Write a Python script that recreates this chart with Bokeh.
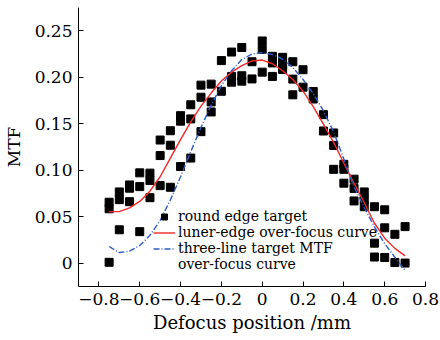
from bokeh.plotting import figure
from bokeh.models import ColumnDataSource, Legend, LegendItem, FixedTicker
from bokeh.embed import file_html
from bokeh.resources import INLINE

# ---- data ----
pt_x = [-0.75, -0.75, -0.75, -0.70, -0.70, -0.70, -0.65, -0.65, -0.65,
        -0.60, -0.60, -0.60, -0.55, -0.55, -0.55, -0.50, -0.50, -0.50,
        -0.45, -0.45, -0.45, -0.40, -0.40, -0.40, -0.35, -0.35, -0.35,
        -0.30, -0.30, -0.30, -0.25, -0.25, -0.25, -0.20, -0.20,
        -0.15, -0.15, -0.15, -0.10, -0.10, -0.10, -0.05, -0.05,
        0.00, 0.00, 0.00, 0.05, 0.05, 0.05, 0.10, 0.10, 0.10,
        0.15, 0.15, 0.15, 0.20, 0.20, 0.25, 0.25, 0.30, 0.30,
        0.35, 0.35, 0.35, 0.40, 0.40, 0.40, 0.45, 0.45, 0.45,
        0.50, 0.50, 0.50, 0.55, 0.55, 0.55, 0.60, 0.60, 0.60,
        0.65, 0.65, 0.70, 0.70]
pt_y = [0.0656, 0.0586, 0.0010, 0.0767, 0.0684, 0.0360, 0.0842, 0.0807, 0.0662,
        0.0972, 0.0824, 0.0340, 0.0969, 0.0889, 0.0705, 0.1325, 0.1158, 0.0835,
        0.1425, 0.1269, 0.0817, 0.1587, 0.1528, 0.1040, 0.1704, 0.1552, 0.1131,
        0.1915, 0.1785, 0.1415, 0.1926, 0.1735, 0.1627, 0.2179, 0.1849,
        0.2271, 0.2009, 0.1947, 0.2320, 0.2016, 0.1958, 0.2167, 0.1982,
        0.2390, 0.2300, 0.2055, 0.2225, 0.2154, 0.2009, 0.2214, 0.2133, 0.2084,
        0.2167, 0.1980, 0.1811, 0.2081, 0.1893, 0.1847, 0.1766, 0.1598, 0.1422,
        0.1401, 0.1267, 0.1010, 0.1064, 0.1010, 0.0861, 0.0904, 0.0805, 0.0670,
        0.0767, 0.0688, 0.0608, 0.0608, 0.0216, 0.0067, 0.0575, 0.0381, 0.0062,
        0.0311, 0.0008, 0.0394, 0.0002]

curve_x = [-0.75, -0.70, -0.65, -0.60, -0.55, -0.50, -0.45, -0.40, -0.35, -0.30,
           -0.25, -0.20, -0.15, -0.10, -0.05, 0.00, 0.05, 0.10, 0.15, 0.20,
           0.25, 0.30, 0.35, 0.40, 0.45, 0.50, 0.55, 0.60, 0.65, 0.70]
red_y = [0.0555, 0.0555, 0.0595, 0.0665, 0.0775, 0.0930, 0.1130, 0.1330, 0.1520, 0.1690,
         0.1830, 0.1960, 0.2055, 0.2125, 0.2175, 0.2185, 0.2145, 0.2070, 0.1976, 0.1850,
         0.1685, 0.1495, 0.1300, 0.1075, 0.0860, 0.0650, 0.0430, 0.0270, 0.0160, 0.0080]
blue_y = [0.0180, 0.0115, 0.0130, 0.0190, 0.0300, 0.0460, 0.0680, 0.0930, 0.1200, 0.1460,
          0.1700, 0.1910, 0.2070, 0.2190, 0.2250, 0.2265, 0.2245, 0.2195, 0.2105, 0.1976,
          0.1825, 0.1640, 0.1410, 0.1120, 0.0820, 0.0600, 0.0390, 0.0210, 0.0065, -0.0075]

x_ticks = [-0.8, -0.6, -0.4, -0.2, 0.0, 0.2, 0.4, 0.6, 0.8]
x_tick_labels = ["\u22120.8", "\u22120.6", "\u22120.4", "\u22120.2", "0", "0.2", "0.4", "0.6", "0.8"]
y_ticks = [0.0, 0.05, 0.10, 0.15, 0.20, 0.25]
y_tick_labels = ["0", "0.05", "0.10", "0.15", "0.20", "0.25"]

legend_labels = ["round edge target", "luner-edge over-focus curve",
                 "three-line target MTF", "over-focus curve"]

FONT = "DejaVu Serif"

p = figure(width=440, height=340, output_backend="svg", toolbar_location=None,
           x_range=(-0.9, 0.8), y_range=(-0.025, 0.275),
           min_border_left=73, min_border_right=15, min_border_top=7, min_border_bottom=54)
p.outline_line_color = None
p.grid.visible = False
p.background_fill_color = "white"
p.border_fill_color = "white"

pts = ColumnDataSource(dict(x=pt_x, y=pt_y))
crv = ColumnDataSource(dict(x=curve_x, r=red_y, b=blue_y))

r_pts = p.scatter("x", "y", source=pts, marker="square", size=8,
                  fill_color="black", line_color="black")
r_red = p.line("x", "r", source=crv, line_color="#f02828", line_width=1.4)
r_blue = p.line("x", "b", source=crv, line_color="#2c5cc8", line_width=1.4,
                line_dash="6 2 1 2")
r_dummy = p.line(x=[], y=[], line_alpha=0)

for ax in (p.xaxis[0], p.yaxis[0]):
    ax.major_tick_in = 5
    ax.major_tick_out = 0
    ax.minor_tick_line_color = None
    ax.axis_line_color = "black"
    ax.major_tick_line_color = "black"
    ax.major_label_text_font = FONT
    ax.major_label_text_color = "black"
    ax.axis_label_text_font = FONT
    ax.axis_label_text_font_style = "normal"
    ax.axis_label_text_color = "black"

p.xaxis.ticker = FixedTicker(ticks=x_ticks)
p.xaxis.major_label_overrides = {t: l for t, l in zip(x_ticks, x_tick_labels)}
p.yaxis.ticker = FixedTicker(ticks=y_ticks)
p.yaxis.major_label_overrides = {t: l for t, l in zip(y_ticks, y_tick_labels)}

p.xaxis.major_label_text_font_size = "17px"
p.yaxis.major_label_text_font_size = "17px"
p.xaxis.major_label_standoff = 6
p.yaxis.major_label_standoff = 6
p.xaxis.axis_label = "Defocus position /mm"
p.yaxis.axis_label = "MTF"
p.xaxis.axis_label_text_font_size = "18px"
p.yaxis.axis_label_text_font_size = "17px"
p.xaxis.axis_label_standoff = 4
p.yaxis.axis_label_standoff = 8

legend = Legend(items=[
    LegendItem(label=legend_labels[0], renderers=[r_pts]),
    LegendItem(label=legend_labels[1], renderers=[r_red]),
    LegendItem(label=legend_labels[2], renderers=[r_blue]),
    LegendItem(label=legend_labels[3], renderers=[r_dummy]),
], location=(75, 14))
legend.label_text_font = FONT
legend.label_text_font_size = "14px"
legend.label_text_color = "black"
legend.padding = 0
legend.margin = 0
legend.spacing = 0
legend.glyph_width = 22
legend.glyph_height = 15
legend.label_height = 15
legend.label_standoff = 3
legend.border_line_alpha = 0
legend.background_fill_alpha = 0
p.add_layout(legend)

open("out.html", "w").write(file_html(p, INLINE))
